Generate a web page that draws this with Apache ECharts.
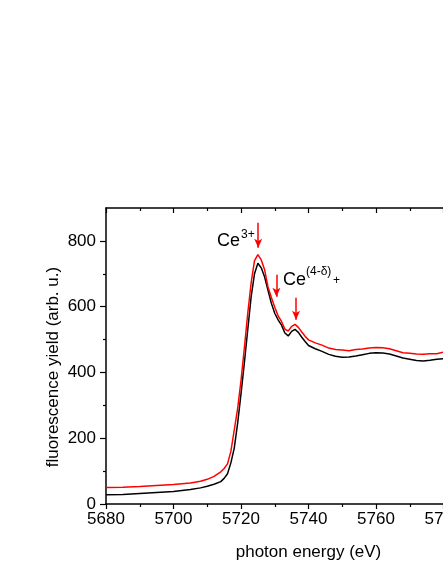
<!DOCTYPE html>
<html>
<head>
<meta charset="utf-8">
<script src="https://cdn.jsdelivr.net/npm/echarts@6/dist/echarts.min.js"></script>
<style>
  html, body { margin: 0; padding: 0; background: #fff; }
  #chart { width: 443px; height: 573px; }
</style>
</head>
<body>
<div id="chart"></div>
<script>
// photon energy (eV)
const energy = [
  5680, 5685, 5690, 5695, 5700, 5705, 5708, 5710, 5712, 5714,
  5715, 5716, 5717, 5718, 5719, 5720, 5721, 5722, 5723, 5724,
  5725, 5726, 5727, 5728, 5729, 5730, 5731, 5732, 5733, 5734,
  5735, 5736, 5737, 5738, 5739, 5740, 5742, 5744, 5746, 5748,
  5750, 5752, 5754, 5756, 5758, 5760, 5762, 5764, 5766, 5768,
  5770, 5772, 5774, 5776, 5778, 5780, 5782, 5784
];
// red trace
const redYield = [
  50, 51, 53, 56, 59, 64, 69, 75, 84, 98,
  108, 122, 160, 225, 290, 375, 475, 580, 672, 740,
  758, 742, 712, 660, 628, 598, 572, 555, 532, 526,
  540, 546, 537, 523, 510, 499, 490, 483, 474, 470,
  468, 466, 470, 471, 474, 476, 475, 472, 466, 460,
  458, 456, 455, 457, 457, 462, 463, 462
];
// black trace
const blackYield = [
  28, 29, 32, 35, 38, 44, 49, 54, 60, 68,
  78, 92, 125, 170, 245, 335, 430, 530, 630, 700,
  732, 718, 690, 650, 610, 580, 560, 544, 520, 511,
  525, 531, 522, 507, 494, 482, 472, 464, 455, 449,
  446, 447, 450, 454, 458, 460, 459, 456, 450, 444,
  440, 436, 435, 437, 440, 442, 443, 444
];
const yMajorTicks = [0, 200, 400, 600, 800];
const yMinorTicks = [100, 300, 500, 700];
// red arrows: [energy, from, to]
const arrows = [
  [5725.1, 855, 779],
  [5730.5, 697, 630],
  [5736.3, 627, 560]
];

const font = 'Liberation Sans, Arial, sans-serif';
const zip = (xs, ys) => xs.map((x, i) => [x, ys[i]]);
const plain = v => String(v);

const chart = echarts.init(document.getElementById('chart'));

const option = {
  backgroundColor: '#fff',
  animation: false,
  grid: { left: 106, top: 208, bottom: 69, right: -68, outerBoundsMode: 'none', containLabel: false },
  xAxis: [
    {
      type: 'value', position: 'bottom', min: 5680, max: 5800, interval: 20,
      axisLine: { onZero: false, lineStyle: { color: '#000', width: 1.5 } },
      axisTick: { length: 5, lineStyle: { color: '#000', width: 1.2 } },
      minorTick: { show: true, splitNumber: 2, length: 3, lineStyle: { color: '#000', width: 1.2 } },
      axisLabel: { color: '#000', fontSize: 17, fontFamily: font, margin: 7, formatter: plain },
      splitLine: { show: false },
      name: 'photon energy (eV)', nameLocation: 'middle', nameGap: 40,
      nameTextStyle: { color: '#000', fontSize: 17, fontFamily: font }
    },
    {
      type: 'value', position: 'top', min: 5680, max: 5800, interval: 20,
      axisLine: { onZero: false, lineStyle: { color: '#000', width: 1.5 } },
      axisTick: { inside: true, length: 5, lineStyle: { color: '#000', width: 1.2 } },
      minorTick: { show: true, splitNumber: 2, length: 3, lineStyle: { color: '#000', width: 1.2 } },
      axisLabel: { show: false },
      splitLine: { show: false }
    }
  ],
  yAxis: [
    {
      type: 'value', position: 'left', min: 0, max: 900,
      axisLine: { onZero: false, lineStyle: { color: '#000', width: 1.5 } },
      axisTick: { length: 6, customValues: yMajorTicks, lineStyle: { color: '#000', width: 1.2 } },
      axisLabel: { customValues: yMajorTicks, color: '#000', fontSize: 17, fontFamily: font, margin: 10, formatter: plain },
      splitLine: { show: false }
    },
    {
      type: 'value', position: 'left', min: 0, max: 900,
      axisLine: { show: false, onZero: false },
      axisTick: { length: 3, customValues: yMinorTicks, lineStyle: { color: '#000', width: 1.2 } },
      axisLabel: { show: false },
      splitLine: { show: false }
    }
  ],
  graphic: [
    {
      type: 'text', x: 53, y: 367, rotation: Math.PI / 2,
      style: { text: 'fluorescence yield (arb. u.)', fill: '#000', font: '17px ' + font,
               align: 'center', verticalAlign: 'middle' }
    },
    { type: 'text', x: 217, y: 241,
      style: { text: 'Ce', fill: '#000', font: '18px ' + font, verticalAlign: 'middle' } },
    { type: 'text', x: 241, y: 235,
      style: { text: '3+', fill: '#000', font: '12px ' + font, verticalAlign: 'middle' } },
    { type: 'text', x: 283, y: 280,
      style: { text: 'Ce', fill: '#000', font: '18px ' + font, verticalAlign: 'middle' } },
    { type: 'text', x: 306, y: 272,
      style: { text: '(4-δ)', fill: '#000', font: '12px ' + font, verticalAlign: 'middle' } },
    { type: 'text', x: 333, y: 281,
      style: { text: '+', fill: '#000', font: '12px ' + font, verticalAlign: 'middle' } }
  ],
  series: [
    {
      type: 'line', xAxisIndex: 0, yAxisIndex: 0,
      data: zip(energy, blackYield), showSymbol: false,
      lineStyle: { color: '#000', width: 1.5 }, itemStyle: { color: '#000' }
    },
    {
      type: 'line', xAxisIndex: 0, yAxisIndex: 0,
      data: zip(energy, redYield), showSymbol: false,
      lineStyle: { color: '#ff0000', width: 1.5 }, itemStyle: { color: '#ff0000' },
      markLine: {
        silent: true, symbol: ['none', 'arrow'], symbolSize: [6, 9],
        label: { show: false },
        lineStyle: { color: '#ff0000', width: 1.5, type: 'solid' },
        data: arrows.map(a => [{ coord: [a[0], a[1]] }, { coord: [a[0], a[2]] }])
      }
    }
  ]
};

chart.setOption(option);
</script>
</body>
</html>
